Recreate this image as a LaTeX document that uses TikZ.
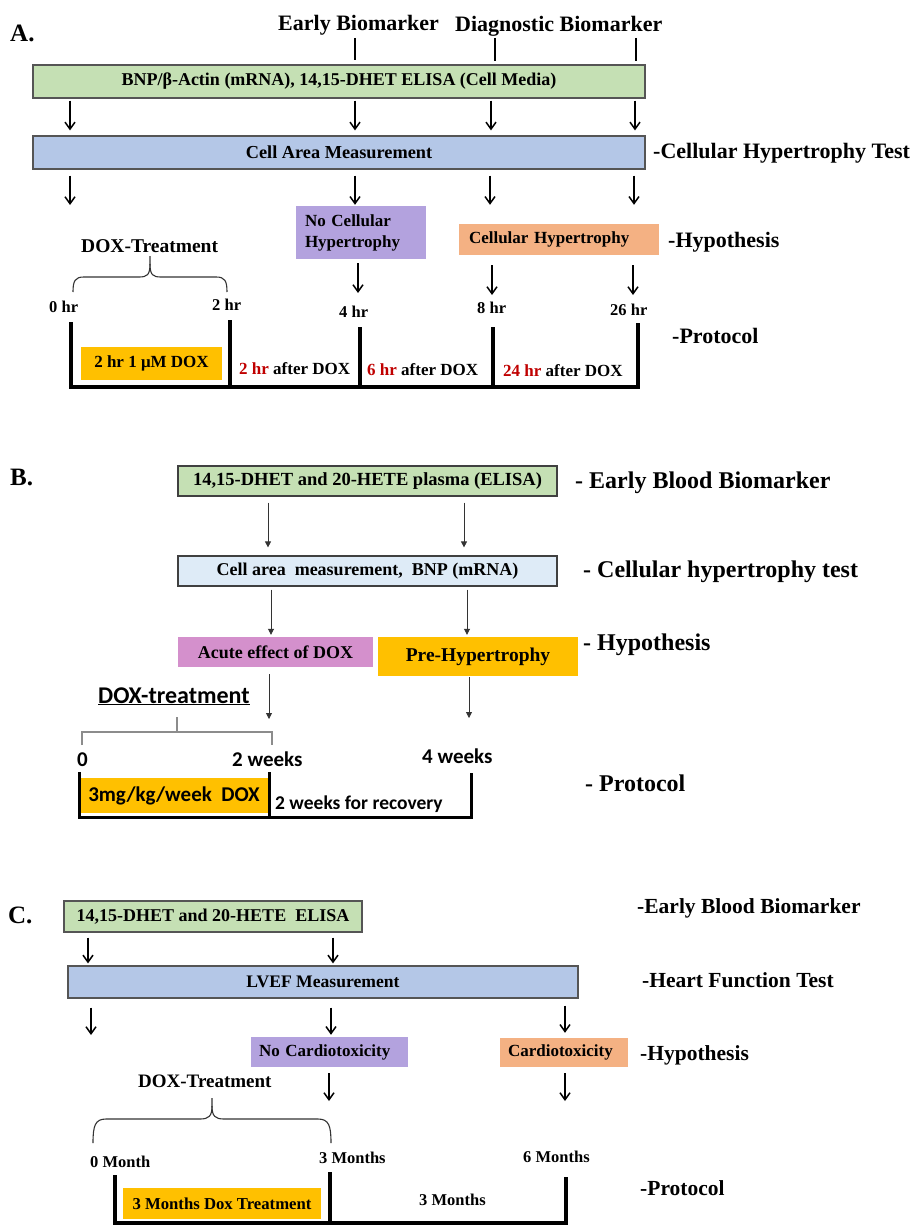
\documentclass[tikz,border=0pt]{standalone}
\usepackage{fontspec}
\setmainfont{Liberation Serif}
\newfontfamily\calfont{Carlito}
\usetikzlibrary{arrows.meta}
\newcommand\fs[1]{\fontsize{#1}{#1}\selectfont}
\definecolor{gfill}{HTML}{C5E0B4}
\definecolor{bfill}{HTML}{B4C7E7}
\definecolor{lbfill}{HTML}{DEEBF7}
\definecolor{purfill}{HTML}{B3A2DE}
\definecolor{peach}{HTML}{F4B183}
\definecolor{orng}{HTML}{FFC000}
\definecolor{acute}{HTML}{D490CC}
\definecolor{redtxt}{HTML}{C00000}
\definecolor{bord}{HTML}{555555}
\begin{document}
\begin{tikzpicture}[x=1pt,y=-1pt,
  lab/.style={anchor=base west, inner sep=0pt, text=black},
  box/.style={inner sep=0pt, align=center, text=black},
  arrA/.style={line width=1.5pt, -{Straight Barb[length=7pt,width=10pt]}},
  arrB/.style={line width=0.8pt, draw=black!80, -{Triangle[length=6pt,width=6pt]}},
  tl/.style={line width=3.5pt, line join=miter},
  brc/.style={line width=1.1pt, draw=black!80},
  tick/.style={line width=1.8pt}]
\fill[white] (0,0) rectangle (919,1225);
\useasboundingbox (0,0) rectangle (919,1225);

%================ A ================
\node[lab, font=\bfseries\fs{25}] (Alab) at (10,42) {A.};
\node[lab, font=\bfseries\fs{22}] (early) at (278,31) {Early Biomarker};
\node[lab, font=\bfseries\fs{22}] (diag) at (455,32) {Diagnostic Biomarker};

\node[box, draw=bord, line width=1.2pt, fill=gfill, minimum width=612pt, minimum height=33pt, font=\bfseries\fs{18}] (gA) at (339,81.5) {BNP/β-Actin (mRNA), 14,15-DHET ELISA (Cell Media)};
\node[box, draw=bord, line width=1.2pt, fill=bfill, minimum width=612pt, minimum height=33pt, font=\bfseries\fs{18.3}] (bA) at (339,152.5) {Cell Area Measurement};
\node[lab, font=\bfseries\fs{22}] (chtA) at (653,159) {-Cellular Hypertrophy Test};

\coordinate (k1) at (355,38); \coordinate (k2) at (495,38); \coordinate (k3) at (636,38);
\draw[tick, shorten >=4pt] (k1) -- (gA.north -| k1);
\draw[tick, shorten >=3pt] (k2) -- (gA.north -| k2);
\draw[tick, shorten >=3pt] (k3) -- (gA.north -| k3);

\foreach \x in {70,355,491,635}
  \draw[arrA, shorten <=2pt, shorten >=5pt] (gA.south -| \x,0) -- (bA.north -| \x,0);

\node[box, fill=purfill, minimum width=130pt, minimum height=53pt, text width=112pt, inner xsep=9pt, align=left, font=\bfseries\fontsize{17}{21}\selectfont] (pA) at (361,232.5) {No Cellular\\Hypertrophy};
\node[box, fill=peach, minimum width=200pt, minimum height=31pt, text width=180pt, inner xsep=10pt, align=left, font=\bfseries\fs{17}] (hA) at (559,239.5) {Cellular Hypertrophy};
\node[lab, font=\bfseries\fs{22}] (hypA) at (668,247) {-Hypothesis};

\coordinate (r2a) at (70,205);
\draw[arrA, shorten <=6pt] (bA.south -| r2a) -- (r2a);
\draw[arrA, shorten <=6pt, shorten >=1pt] (bA.south -| 355,0) -- (pA.north -| 355,0);
\draw[arrA, shorten <=6pt, shorten >=19pt] (bA.south -| 490,0) -- (hA.north -| 490,0);
\draw[arrA, shorten <=6pt, shorten >=19pt] (bA.south -| 634,0) -- (hA.north -| 634,0);

\node[lab, font=\bfseries\fs{19.5}] (dtA) at (81,252) {DOX-Treatment};
\draw[brc] (73,292) .. controls (73,281) and (75,277) .. (84,277) -- (139,277) .. controls (147,277) and (150,275) .. (150,264) -- (150,256);
\draw[brc] (227,292) .. controls (227,281) and (225,277) .. (216,277) -- (161,277) .. controls (153,277) and (150,275) .. (150,264);

\node[lab, font=\bfseries\fs{16.5}] (t0A) at (49,312) {0 hr};
\node[lab, font=\bfseries\fs{16.5}] (t2A) at (212,310) {2 hr};
\node[lab, font=\bfseries\fs{16.5}] (t4A) at (339,317) {4 hr};
\node[lab, font=\bfseries\fs{16.5}] (t8A) at (477,313.5) {8 hr};
\node[lab, font=\bfseries\fs{16.5}] (t26A) at (610,315.5) {26 hr};

\coordinate (e4) at (358,293); \coordinate (e8) at (492,295); \coordinate (e26) at (633,295);
\draw[arrA, shorten <=4pt] (pA.south -| e4) -- (e4);
\draw[arrA, shorten <=10pt] (hA.south -| e8) -- (e8);
\draw[arrA, shorten <=10pt] (hA.south -| e26) -- (e26);

\node[box, fill=orng, minimum width=141pt, minimum height=33pt, font=\bfseries\fs{17}] (dA) at (151.5,363.5) {2 hr 1 μM DOX};
\draw[tl] (71,322) -- (71,387) -- (638,387) -- (638,323);
\draw[tl] (230,320) -- (230,387);
\draw[tl] (360,327) -- (360,387);
\draw[tl] (493,327) -- (493,387);
\node[lab, font=\bfseries\fs{17}] (aa1) at (239,374.5) {\textcolor{redtxt}{2 hr} after DOX};
\node[lab, font=\bfseries\fs{17}] (aa2) at (367,375) {\textcolor{redtxt}{6 hr} after DOX};
\node[lab, font=\bfseries\fs{17}] (aa3) at (503,376) {\textcolor{redtxt}{24 hr} after DOX};
\node[lab, font=\bfseries\fs{22}] (protA) at (672,343) {-Protocol};

%================ B ================
\node[lab, font=\bfseries\fs{25}] (Blab) at (10,485) {B.};
\node[box, draw=black!75, line width=1.2pt, fill=gfill, minimum width=379pt, minimum height=30pt, font=\bfseries\fs{18.5}] (gB) at (367.5,481) {14,15-DHET and 20-HETE plasma (ELISA)};
\node[lab, font=\bfseries\fs{24}] (ebbB) at (575,488) {- Early Blood Biomarker};
\node[box, draw=black!75, line width=1.2pt, fill=lbfill, minimum width=379pt, minimum height=30pt, font=\bfseries\fs{18}] (lbB) at (367.5,571) {Cell area\ \ measurement,\ \ BNP (mRNA)};
\node[lab, font=\bfseries\fs{24}] (chtB) at (583,577) {- Cellular hypertrophy test};

\draw[arrB, shorten <=6pt, shorten >=8pt] (gB.south -| 268,0) -- (lbB.north -| 268,0);
\draw[arrB, shorten <=6pt, shorten >=8pt] (gB.south -| 464,0) -- (lbB.north -| 464,0);

\node[box, fill=acute, minimum width=195pt, minimum height=30pt, font=\bfseries\fs{18}] (acB) at (275.5,652) {Acute effect of DOX};
\node[box, fill=orng, minimum width=200pt, minimum height=39pt, font=\bfseries\fs{19.5}] (preB) at (478,656.5) {Pre-Hypertrophy};
\node[lab, font=\bfseries\fs{24}] (hypB) at (583,650) {- Hypothesis};

\draw[arrB, shorten <=3pt, shorten >=2pt] (lbB.south -| 271,0) -- (acB.north -| 271,0);
\draw[arrB, shorten <=3pt, shorten >=2pt] (lbB.south -| 467,0) -- (preB.north -| 467,0);

\coordinate (eb1) at (269,719); \coordinate (eb2) at (469,718);
\draw[arrB, shorten <=7pt] (acB.south -| eb1) -- (eb1);
\draw[arrB, shorten <=1pt] (preB.south -| eb2) -- (eb2);

\node[lab, font=\calfont\bfseries\fs{24}] (dtB) at (98,703) {\underline{DOX-treatment}};
\draw[line width=1.1pt, draw=black!45] (82,745) -- (82,732) -- (272,732) -- (272,745);
\draw[line width=1.1pt, draw=black!45] (177,732) -- (177,717);

\node[lab, font=\calfont\bfseries\fs{21}] (w0) at (77,766) {0};
\node[lab, font=\calfont\bfseries\fs{21}] (w2) at (232,766) {2 weeks};
\node[lab, font=\calfont\bfseries\fs{21}] (w4) at (422,763) {4 weeks};

\node[box, fill=orng, minimum width=190pt, minimum height=35pt, font=\calfont\bfseries\fs{21}] (dB) at (174,795.5) {3mg/kg/week\ \ DOX};
\draw[line width=3pt, line join=miter] (79,772) -- (79,817) -- (471,817) -- (471,773);
\draw[line width=3pt] (269,772) -- (269,817);
\node[lab, font=\calfont\bfseries\fs{19.5}] (recB) at (275,809) {2 weeks for recovery};
\node[lab, font=\bfseries\fs{24}] (protB) at (585,791) {- Protocol};

%================ C ================
\node[lab, font=\bfseries\fs{25}] (Clab) at (8,923) {C.};
\node[box, draw=bord, line width=1.2pt, fill=gfill, minimum width=298pt, minimum height=31pt, font=\bfseries\fs{18}] (gC) at (213,916.5) {14,15-DHET and 20-HETE\ \ ELISA};
\node[lab, font=\bfseries\fs{21.5}] (ebbC) at (637,913) {-Early Blood Biomarker};
\node[box, draw=bord, line width=1.2pt, fill=bfill, minimum width=510pt, minimum height=32pt, font=\bfseries\fs{17.6}] (bC) at (323,982) {LVEF Measurement};
\node[lab, font=\bfseries\fs{21.5}] (hftC) at (642,987) {-Heart Function Test};

\draw[arrA, shorten <=5pt, shorten >=2pt] (gC.south -| 88,0) -- (bC.north -| 88,0);
\draw[arrA, shorten <=5pt, shorten >=2pt] (gC.south -| 333,0) -- (bC.north -| 333,0);

\node[box, fill=purfill, minimum width=157pt, minimum height=30pt, text width=141pt, inner xsep=8pt, align=left, font=\bfseries\fs{17}] (pC) at (329.5,1052) {No Cardiotoxicity};
\node[box, fill=peach, minimum width=128pt, minimum height=29pt, text width=112pt, inner xsep=8pt, align=left, font=\bfseries\fs{17}] (cC) at (564,1052.5) {Cardiotoxicity};
\node[lab, font=\bfseries\fs{21.5}] (hypC) at (640,1060) {-Hypothesis};

\coordinate (ec1) at (91,1035);
\draw[arrA, shorten <=9pt] (bC.south -| ec1) -- (ec1);
\draw[arrA, shorten <=9pt, shorten >=2pt] (bC.south -| 331,0) -- (pC.north -| 331,0);
\draw[arrA, shorten <=7pt, shorten >=5pt] (bC.south -| 565,0) -- (cC.north -| 565,0);

\coordinate (ec2) at (329,1101); \coordinate (ec3) at (565,1101);
\draw[arrA, shorten <=6pt] (pC.south -| ec2) -- (ec2);
\draw[arrA, shorten <=6pt] (cC.south -| ec3) -- (ec3);

\node[lab, font=\bfseries\fs{19}] (dtC) at (138,1087) {DOX-Treatment};
\draw[brc] (93,1143) .. controls (93,1126) and (95,1119) .. (106,1119) -- (200,1119) .. controls (209,1119) and (212,1116) .. (212,1106) -- (212,1098);
\draw[brc] (331,1143) .. controls (331,1126) and (329,1119) .. (318,1119) -- (224,1119) .. controls (215,1119) and (212,1116) .. (212,1106);

\node[lab, font=\bfseries\fs{16.5}] (m0) at (90,1167.5) {0 Month};
\node[lab, font=\bfseries\fs{16.5}] (m3) at (319,1163.5) {3 Months};
\node[lab, font=\bfseries\fs{16.5}] (m6) at (523,1162.5) {6 Months};

\node[box, fill=orng, minimum width=198pt, minimum height=31pt, font=\bfseries\fs{16.7}] (dC) at (222,1203.5) {3 Months Dox Treatment};
\draw[line width=3.2pt, line join=miter] (115,1175) -- (115,1223) -- (566,1223) -- (566,1177);
\draw[line width=3.2pt] (330,1172) -- (330,1223);
\node[lab, font=\bfseries\fs{16.5}] (m3b) at (419,1205.5) {3 Months};
\node[lab, font=\bfseries\fs{21.5}] (protC) at (640,1195) {-Protocol};
\end{tikzpicture}
\end{document}
